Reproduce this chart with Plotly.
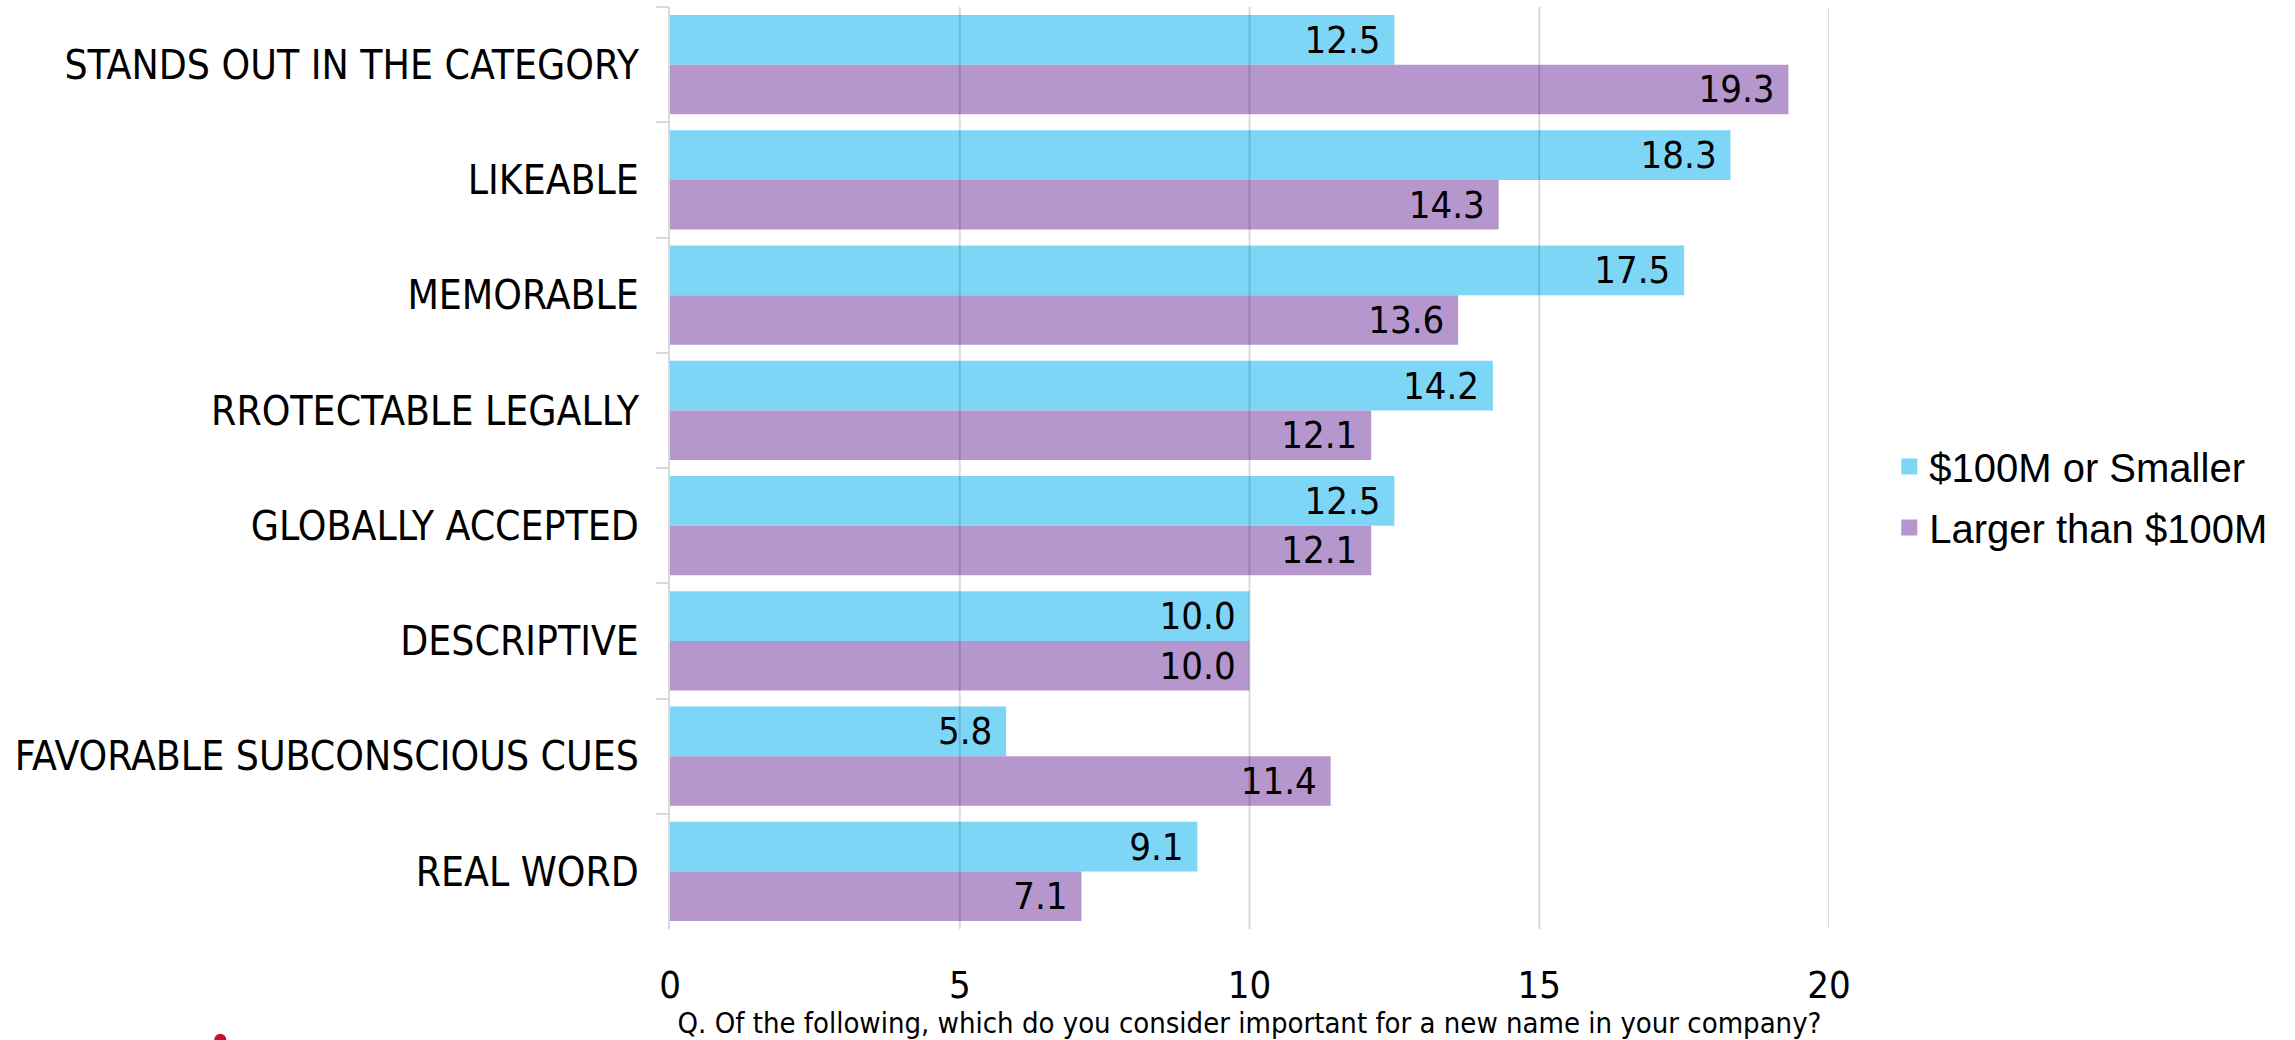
import plotly.graph_objects as go

# Survey responses: share of respondents (%) naming each attribute as important
categories = [
    "STANDS OUT IN THE CATEGORY",
    "LIKEABLE",
    "MEMORABLE",
    "RROTECTABLE LEGALLY",
    "GLOBALLY ACCEPTED",
    "DESCRIPTIVE",
    "FAVORABLE SUBCONSCIOUS CUES",
    "REAL WORD",
]
small_companies = [12.5, 18.3, 17.5, 14.2, 12.5, 10.0, 5.8, 9.1]
large_companies = [19.3, 14.3, 13.6, 12.1, 12.1, 10.0, 11.4, 7.1]
series_names = ["$100M or Smaller", "Larger than $100M"]
x_ticks = [0, 5, 10, 15, 20]

CYAN = "#7ED6F7"
PURPLE = "#B597CE"
NARROW = "Liberation Sans Narrow, DejaVu Sans Condensed, Arial Narrow, sans-serif"
REGULAR = "Liberation Sans, Arial, sans-serif"

fig = go.Figure()
for name, values, color in [
    (series_names[0], small_companies, CYAN),
    (series_names[1], large_companies, PURPLE),
]:
    fig.add_trace(go.Bar(
        y=categories, x=values, name=name, orientation="h",
        marker=dict(color=color, line=dict(width=0)),
        texttemplate="%{x:.1f}\u00a0", textposition="inside",
        insidetextanchor="end", constraintext="none",
        textfont=dict(family=NARROW, size=38, color="#000000"),
        showlegend=False, hoverinfo="skip",
    ))
    # legend entry with a larger square swatch
    fig.add_trace(go.Scatter(
        x=[None], y=[None], mode="markers", name=name, legendgroup=name,
        marker=dict(symbol="square", size=16, color=color),
    ))

# vertical gridlines drawn over the bars
shapes = [
    dict(type="line", xref="x", yref="paper", x0=t, x1=t, y0=0, y1=1,
         line=dict(color="rgba(0,0,0,0.14)", width=2), layer="above")
    for t in x_ticks[1:]
]
# small red badge at the bottom edge
shapes.append(dict(type="circle", xref="paper", yref="paper",
                   xsizemode="pixel", ysizemode="pixel",
                   xanchor=-0.388, yanchor=-0.120,
                   x0=-6, x1=6, y0=-6, y1=6,
                   fillcolor="#C8102E", line=dict(width=0)))

fig.update_layout(
    width=2295, height=1040,
    margin=dict(l=670, r=466, t=7, b=111, autoexpand=False),
    paper_bgcolor="white", plot_bgcolor="white",
    barmode="group", bargap=0.14, bargroupgap=0,
    font=dict(family=NARROW, color="#000000"),
    shapes=shapes,
    legend=dict(
        x=1.052, xanchor="left", y=0.4685, yanchor="middle",
        font=dict(family=REGULAR, size=40, color="#000000"),
        bgcolor="rgba(0,0,0,0)", traceorder="grouped", tracegroupgap=6,
    ),
)
fig.update_xaxes(
    range=[0, 20], tickvals=x_ticks, showgrid=False, zeroline=False,
    showline=False, ticks="", ticklabelstandoff=30, automargin=False,
    tickfont=dict(family=NARROW, size=38),
    title=dict(
        text="Q. Of the following, which do you consider important for a new name in your company?",
        font=dict(family=NARROW, size=29), standoff=9,
    ),
)
fig.update_yaxes(
    autorange="reversed", showgrid=False, zeroline=False, automargin=False,
    showline=True, linecolor="#D9D9D9", linewidth=2,
    ticks="outside", tickson="boundaries", ticklen=12, tickcolor="#D9D9D9",
    tickwidth=2, ticklabelstandoff=21,
    tickfont=dict(family=NARROW, size=40.5),
)

fig.write_html("out.html")
